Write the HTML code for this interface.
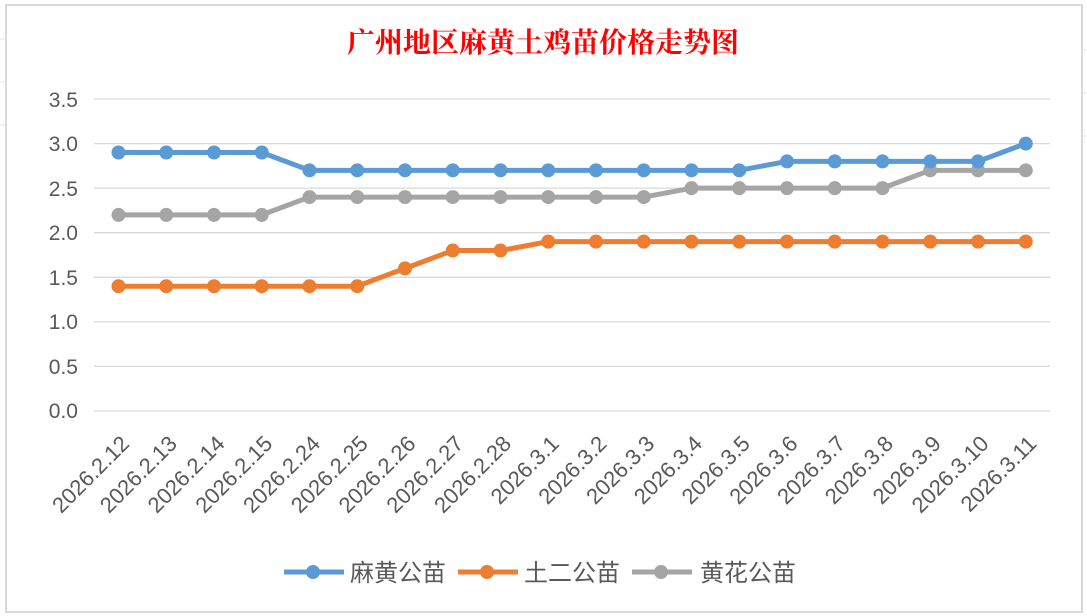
<!DOCTYPE html>
<html><head><meta charset="utf-8"><style>body{margin:0;background:#fff}svg{display:block}</style></head><body>
<svg width="1087" height="616" xmlns="http://www.w3.org/2000/svg" font-family="'Liberation Sans','Noto Sans CJK SC',sans-serif">
<rect width="1087" height="616" fill="#fff"/>
<g stroke="#e3e3e3" stroke-width="1">
<line x1="0" y1="39" x2="6" y2="39"/><line x1="0" y1="82" x2="6" y2="82"/><line x1="0" y1="125" x2="6" y2="125"/>
<line x1="1082" y1="50" x2="1087" y2="50"/><line x1="1082" y1="93" x2="1087" y2="93"/><line x1="1082" y1="136" x2="1087" y2="136"/>
</g>
<rect x="6" y="5" width="1076" height="607" fill="#fff" stroke="#d9d9d9" stroke-width="2"/>
<text x="543" y="52" text-anchor="middle" font-family="'Noto Serif CJK SC',serif" font-weight="bold" font-size="28" fill="#ff0000">广州地区麻黄土鸡苗价格走势图</text>
<g stroke="#d9d9d9" stroke-width="1.3">
<line x1="94" x2="1050" y1="99" y2="99"/><line x1="94" x2="1050" y1="143.6" y2="143.6"/><line x1="94" x2="1050" y1="188.1" y2="188.1"/><line x1="94" x2="1050" y1="232.7" y2="232.7"/><line x1="94" x2="1050" y1="277.3" y2="277.3"/><line x1="94" x2="1050" y1="321.9" y2="321.9"/><line x1="94" x2="1050" y1="366.4" y2="366.4"/><line x1="94" x2="1050" y1="411" y2="411"/>
</g>
<g font-size="21" fill="#595959" text-anchor="end">
<text x="78" y="107">3.5</text><text x="78" y="151">3.0</text><text x="78" y="196">2.5</text><text x="78" y="240">2.0</text><text x="78" y="285">1.5</text><text x="78" y="329">1.0</text><text x="78" y="374">0.5</text><text x="78" y="418">0.0</text>
</g>
<g id="c"></g>
<g font-size="24" fill="#595959">
<line x1="284" x2="344" y1="572" y2="572" stroke="#5b9bd5" stroke-width="5"/><circle cx="313" cy="572" r="7" fill="#5b9bd5"/><text x="350" y="581">麻黄公苗</text>
<line x1="458" x2="518" y1="572" y2="572" stroke="#ed7d31" stroke-width="5"/><circle cx="487" cy="572" r="7" fill="#ed7d31"/><text x="524" y="581">土二公苗</text>
<line x1="632" x2="692" y1="572" y2="572" stroke="#a5a5a5" stroke-width="5"/><circle cx="661" cy="572" r="7" fill="#a5a5a5"/><text x="700" y="581">黄花公苗</text>
</g>
<script>
(function(){
var ns="http://www.w3.org/2000/svg",g=document.getElementById("c");
var labels=["2026.2.12","2026.2.13","2026.2.14","2026.2.15","2026.2.24","2026.2.25","2026.2.26","2026.2.27","2026.2.28","2026.3.1","2026.3.2","2026.3.3","2026.3.4","2026.3.5","2026.3.6","2026.3.7","2026.3.8","2026.3.9","2026.3.10","2026.3.11"];
var s=[["#a5a5a5",[2.2,2.2,2.2,2.2,2.4,2.4,2.4,2.4,2.4,2.4,2.4,2.4,2.5,2.5,2.5,2.5,2.5,2.7,2.7,2.7]],
["#ed7d31",[1.4,1.4,1.4,1.4,1.4,1.4,1.6,1.8,1.8,1.9,1.9,1.9,1.9,1.9,1.9,1.9,1.9,1.9,1.9,1.9]],
["#5b9bd5",[2.9,2.9,2.9,2.9,2.7,2.7,2.7,2.7,2.7,2.7,2.7,2.7,2.7,2.7,2.8,2.8,2.8,2.8,2.8,3.0]]];
function X(i){return 118.5+i*47.75}function Y(v){return 411-v*89.14}
s.forEach(function(a){var p="";a[1].forEach(function(v,i){p+=(i?"L":"M")+X(i)+" "+Y(v)});
var l=document.createElementNS(ns,"path");l.setAttribute("d",p);l.setAttribute("fill","none");l.setAttribute("stroke",a[0]);l.setAttribute("stroke-width","5");l.setAttribute("stroke-linejoin","round");g.appendChild(l);
a[1].forEach(function(v,i){var c=document.createElementNS(ns,"circle");c.setAttribute("cx",X(i));c.setAttribute("cy",Y(v));c.setAttribute("r","7");c.setAttribute("fill",a[0]);g.appendChild(c);});});
labels.forEach(function(t,i){var e=document.createElementNS(ns,"text");var x=X(i)+12,y=445;e.setAttribute("x",x);e.setAttribute("y",y);e.setAttribute("text-anchor","end");e.setAttribute("font-size","22");e.setAttribute("fill","#595959");e.setAttribute("transform","rotate(-45 "+x+" "+y+")");e.textContent=t;g.appendChild(e);});
})();
</script>
</svg>
</body></html>
